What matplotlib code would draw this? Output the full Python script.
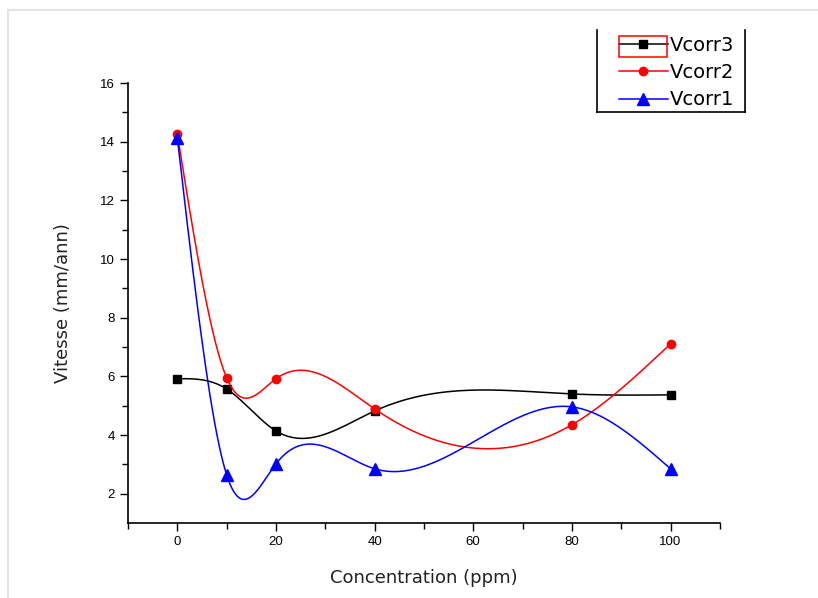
import numpy as np
import matplotlib
matplotlib.use("Agg")
from matplotlib import pyplot as plt
from matplotlib.patches import Rectangle
from matplotlib.lines import Line2D

conc = [0, 10, 20, 40, 80, 100]
vcorr3 = [5.92, 5.57, 4.14, 4.82, 5.40, 5.37]
vcorr2 = [14.26, 5.95, 5.92, 4.89, 4.35, 7.11]
vcorr1 = [14.13, 2.64, 3.02, 2.85, 4.96, 2.85]


def spline(x, y, n=400):
    # natural cubic spline, like Origin's "spline" connect
    x = np.asarray(x, float)
    y = np.asarray(y, float)
    m = len(x)
    h = np.diff(x)
    A = np.zeros((m, m))
    b = np.zeros(m)
    A[0, 0] = A[-1, -1] = 1
    for i in range(1, m - 1):
        A[i, i - 1] = h[i - 1]
        A[i, i] = 2 * (h[i - 1] + h[i])
        A[i, i + 1] = h[i]
        b[i] = 6 * ((y[i + 1] - y[i]) / h[i] - (y[i] - y[i - 1]) / h[i - 1])
    M = np.linalg.solve(A, b)
    xs = np.linspace(x[0], x[-1], n)
    k = np.clip(np.searchsorted(x, xs) - 1, 0, m - 2)
    t0 = x[k + 1] - xs
    t1 = xs - x[k]
    hk = h[k]
    ys = (M[k] * t0**3 + M[k + 1] * t1**3) / (6 * hk) \
        + (y[k] / hk - M[k] * hk / 6) * t0 + (y[k + 1] / hk - M[k + 1] * hk / 6) * t1
    return xs, ys


plt.rcParams['font.family'] = ['DejaVu Sans']

fig = plt.figure(figsize=(8.18, 5.98), dpi=100)
ax = fig.add_axes([0.1565, 0.1254, 0.7235, 0.7356])

series = [
    ("Vcorr3", vcorr3, "black", "s", 6),
    ("Vcorr2", vcorr2, "red", "o", 6),
    ("Vcorr1", vcorr1, "blue", "^", 8),
]
for name, vals, col, mk, ms in series:
    xs, ys = spline(conc, vals)
    ax.plot(xs, ys, color=col, lw=1.1)
    ax.plot(conc, vals, ls="none", marker=mk, color=col, ms=ms)
    ax.plot([], [], color=col, lw=1.1, marker=mk, ms=ms, label=name)

ax.set_xlim(-10, 110)
ax.set_ylim(1, 16)
ax.set_xticks([0, 20, 40, 60, 80, 100])
ax.set_xticks(range(-10, 111, 20), minor=True)
ax.set_yticks([2, 4, 6, 8, 10, 12, 14, 16])
ax.set_yticks(range(3, 16, 2), minor=True)
ax.tick_params(direction="out", length=6, width=1, labelsize=9.5)
ax.tick_params(which="minor", direction="out", length=4, width=1)
for lab in ax.get_xticklabels() + ax.get_yticklabels():
    lab.set_family("Liberation Sans")
for s in ["top", "right"]:
    ax.spines[s].set_visible(False)
for s in ["left", "bottom"]:
    ax.spines[s].set_linewidth(1.2)

ax.set_xlabel("Concentration (ppm)", fontsize=13, labelpad=15, color="#222222")
ax.set_ylabel("Vitesse (mm/ann)", fontsize=13, labelpad=20, color="#222222")

leg = fig.legend(loc="upper left", bbox_to_anchor=(619 / 818, 1 - 36 / 598), fontsize=14,
                 frameon=False, handlelength=2.5, handletextpad=0.1,
                 labelspacing=0.42, borderpad=0, borderaxespad=0)

# legend frame: left, right and bottom sides only
W, H = 818, 598
for xx, yy in [([597, 597], [30, 112]), ([745, 745], [30, 112]), ([597, 745], [112, 112])]:
    fig.add_artist(Line2D([v / W for v in xx], [1 - v / H for v in yy],
                          transform=fig.transFigure, color="black", lw=1.2))

# red selection box round the first legend handle
fig.add_artist(Rectangle((619 / W, 1 - 57 / H), 48 / W, 21 / H,
                         transform=fig.transFigure, fill=False,
                         edgecolor="red", lw=1.1, zorder=10))

# faint screenshot border
fig.patches.append(Rectangle((8 / W, -0.05), 1.1, 1 - 10 / H + 0.05,
                             transform=fig.transFigure, fill=False,
                             edgecolor="#e4e4e4", lw=1.5))

fig.savefig("out.png", dpi=100)
